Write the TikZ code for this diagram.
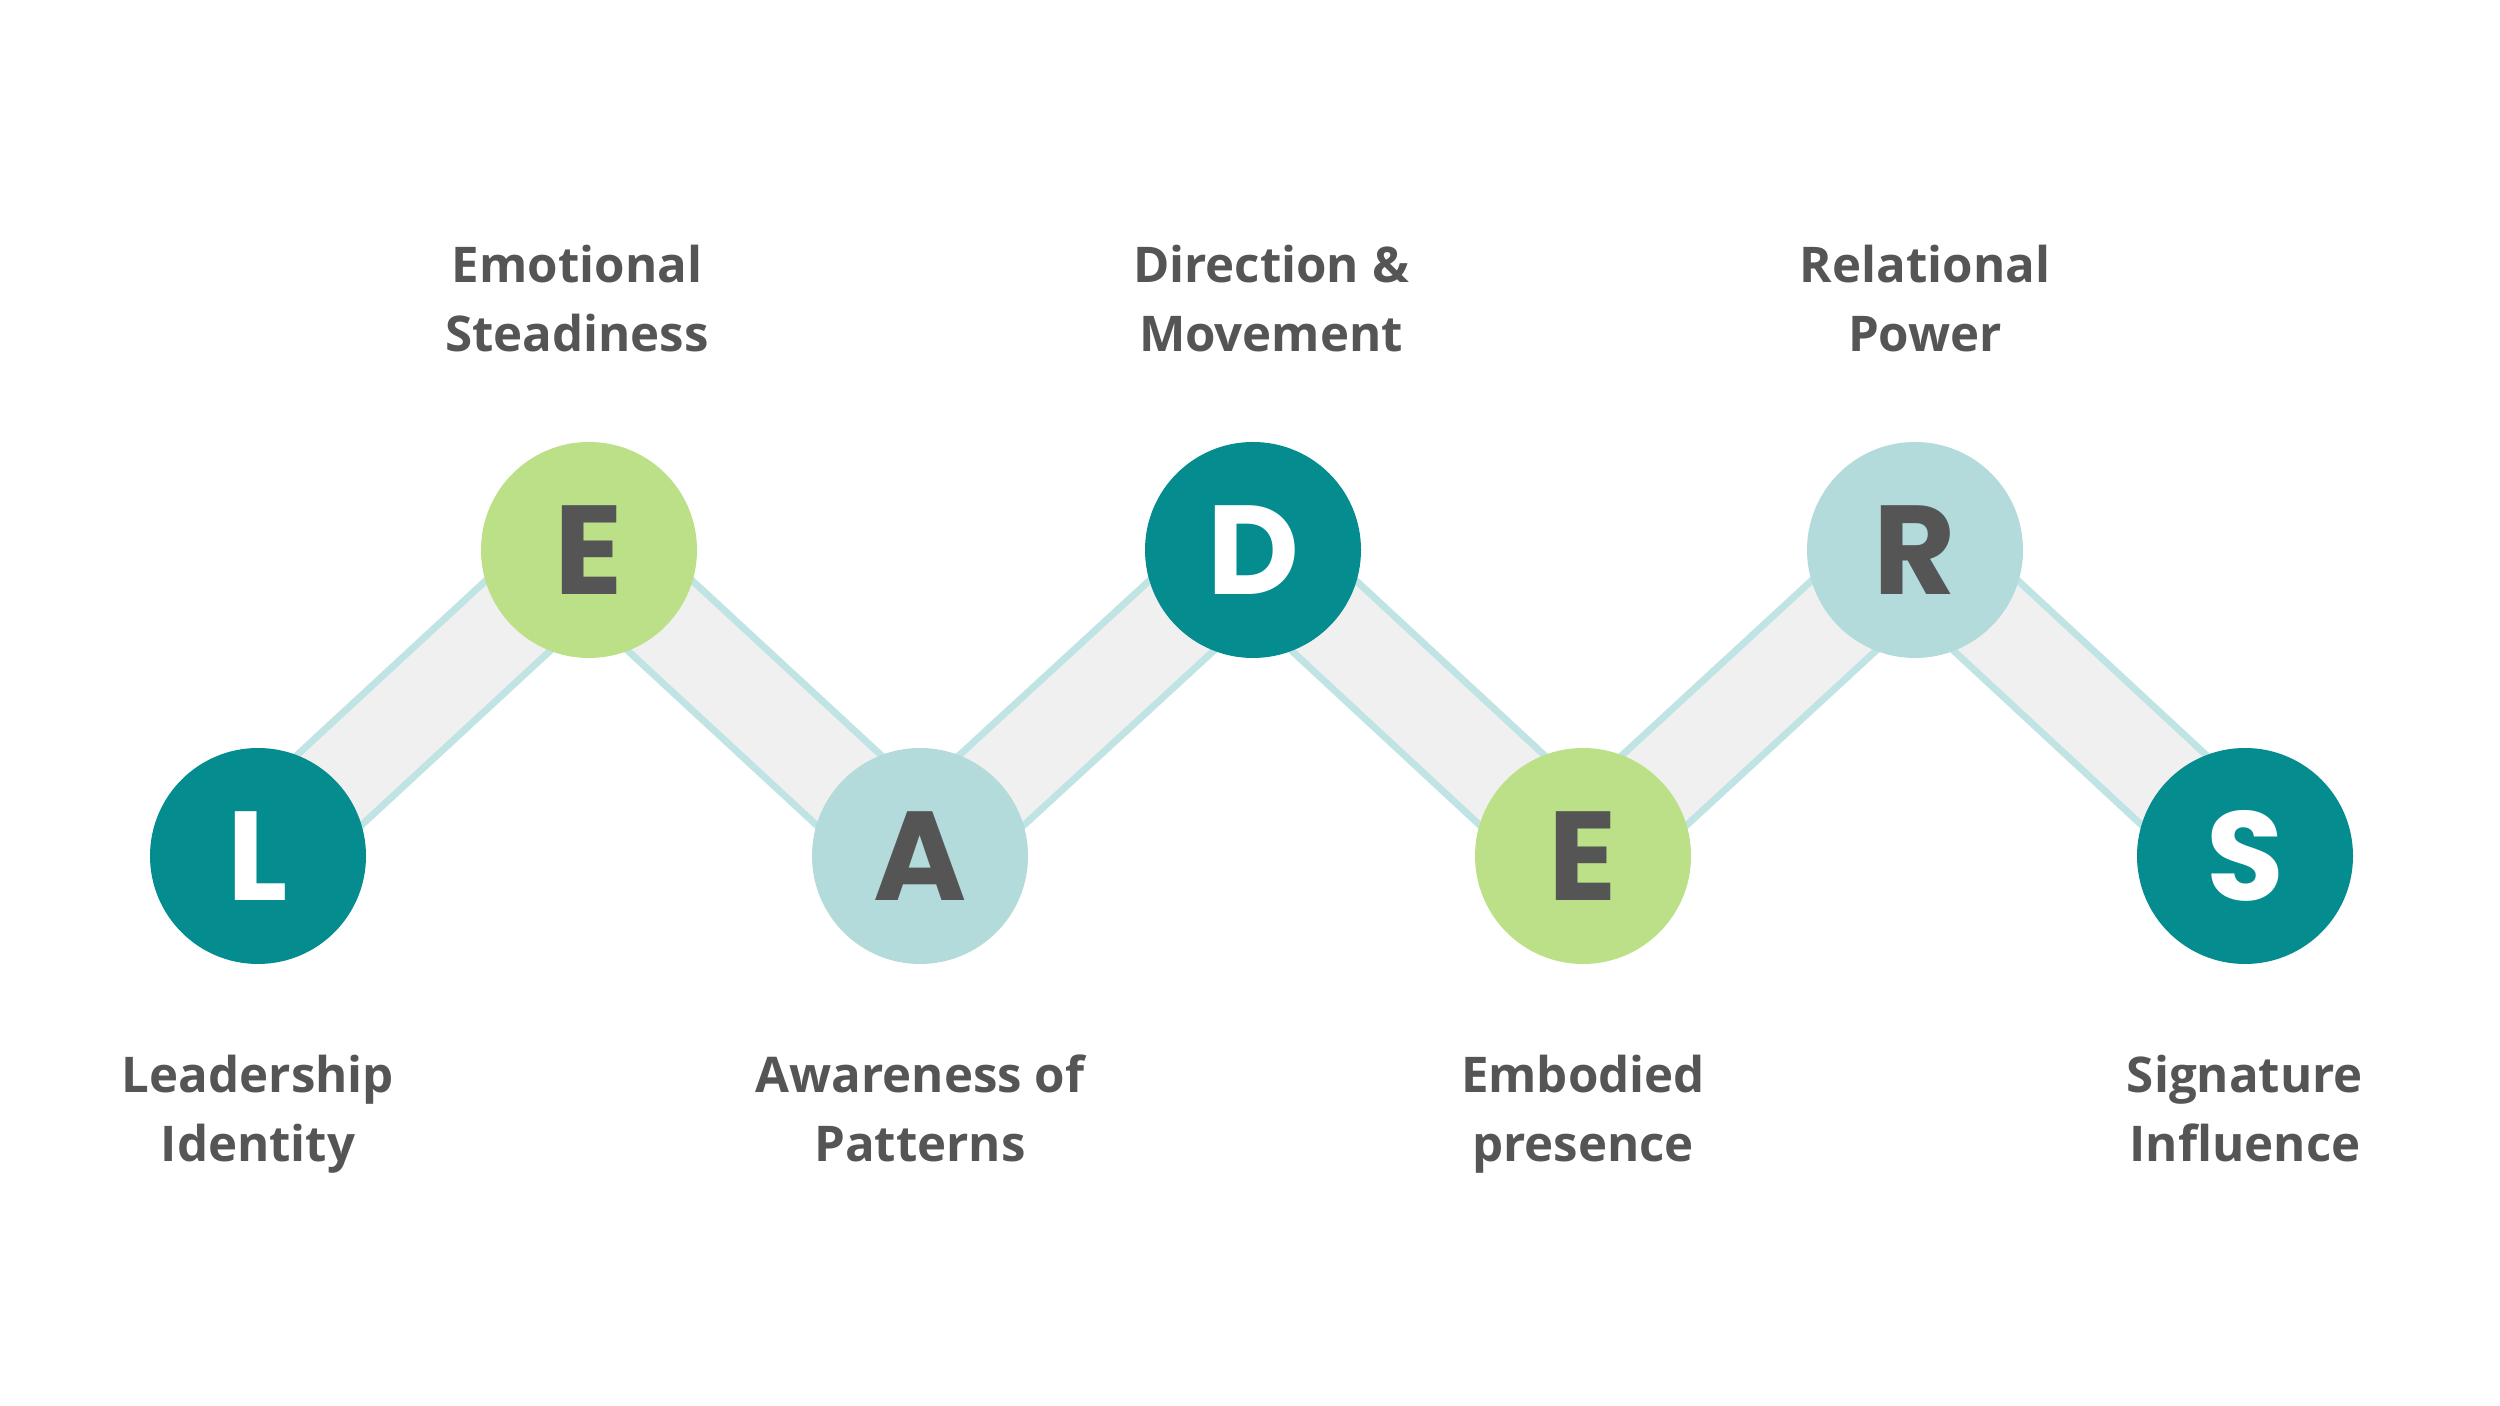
\documentclass[tikz,border=0pt]{standalone}
\usepackage{fontspec}
\setmainfont{Open Sans}
\newfontfamily\letterfont{Poppins}
\usepackage{tikz}
\usetikzlibrary{positioning, backgrounds}
\definecolor{darkteal}{RGB}{4,140,142}
\definecolor{softgreen}{RGB}{187,224,135}
\definecolor{paleteal}{RGB}{179,219,219}
\definecolor{bandedge}{RGB}{192,227,227}
\definecolor{bandfill}{RGB}{240,240,240}
\definecolor{inkgray}{RGB}{85,85,85}

\begin{document}
\begin{tikzpicture}[
    circ/.style={circle, minimum size=2.16cm, inner sep=0pt, font=\letterfont\bfseries\fontsize{36}{36}\selectfont},
    darkc/.style={circ, fill=darkteal, text=white},
    greenc/.style={circ, fill=softgreen, text=inkgray},
    palec/.style={circ, fill=paleteal, text=inkgray},
    band/.style={draw=bandedge, line width=2pt, double=bandfill, double distance=0.88cm},
    lbl/.style={align=center, text=inkgray, font=\bfseries\fontsize{14}{19.9}\selectfont}
]
\useasboundingbox (0,0) rectangle (25,14.06);

% letters
\node[darkc]  (L)  at (2.58,5.50)  {L};
\node[greenc] (E1) at (5.89,8.56)  {E};
\node[palec]  (A)  at (9.20,5.50)  {A};
\node[darkc]  (D)  at (12.53,8.56) {D};
\node[greenc] (E2) at (15.83,5.50) {E};
\node[palec]  (R)  at (19.15,8.56) {R};
\node[darkc]  (S)  at (22.45,5.50) {S};

% labels
\node[lbl] (tL)  at ([yshift=-2.57cm]L.center)  {\strut Leadership\\\strut Identity};
\node[lbl] (tE1) at ([xshift=-0.12cm, yshift=2.47cm]E1.center) {\strut Emotional\\\strut Steadiness};
\node[lbl] (tA)  at ([yshift=-2.57cm]A.center)  {\strut Awareness of\\\strut Patterns};
\node[lbl] (tD)  at ([xshift=0.18cm, yshift=2.47cm]D.center)  {\strut Direction \&\\\strut Movement};
\node[lbl] (tE2) at ([yshift=-2.57cm]E2.center) {\strut Embodied\\\strut presence};
\node[lbl] (tR)  at ([xshift=0.1cm, yshift=2.47cm]R.center)  {\strut Relational\\\strut Power};
\node[lbl] (tS)  at ([yshift=-2.57cm]S.center)  {\strut Signature\\\strut Influence};

% zigzag bands
\begin{scope}[on background layer]
\fill[white] (0,0) rectangle (25,14.06);
\draw[band] (L.center) -- (E1.center);
\draw[band] (E1.center) -- (A.center);
\draw[band] (A.center) -- (D.center);
\draw[band] (D.center) -- (E2.center);
\draw[band] (E2.center) -- (R.center);
\draw[band] (R.center) -- (S.center);
\end{scope}

\end{tikzpicture}
\end{document}
